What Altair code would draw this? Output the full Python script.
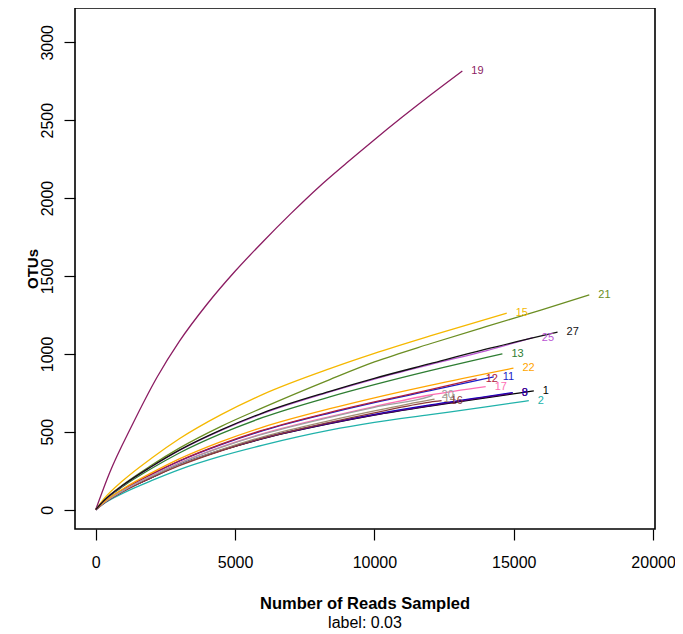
import altair as alt
import pandas as pd

# ---- data (reads sampled -> OTUs) ----
SAMPLES = ["1", "2", "8", "9", "11", "12", "13", "14", "15", "16",
           "17", "19", "20", "21", "22", "25", "27"]

COLORS = {
    "1": "#000000", "2": "#20B2AA", "8": "#0000CD", "9": "#4B0082",
    "11": "#1C1CC8", "12": "#B0203C", "13": "#2E7D32", "14": "#A08C70",
    "15": "#F5B800", "16": "#8B3A3A", "17": "#FF6EB4", "19": "#8B1C62",
    "20": "#A0A0A0", "21": "#6B8E23", "22": "#FFA500", "25": "#BA55D3",
    "27": "#111111",
}

reads_19 = [0, 500, 1300, 2200, 3000, 4000, 5000, 6000, 7000, 8000, 9000,
            10000, 11000, 12000, 13155]
otus_19 = [0, 237, 540, 850, 1080, 1320, 1530, 1720, 1900, 2070, 2225,
           2375, 2520, 2660, 2816]

grid = [0, 300, 1000, 2000, 3000, 4500, 6000, 8400, 10000, 12000]

reads_15 = grid + [14748]
otus_15 = [0, 70, 190, 330, 455, 610, 740, 905, 1003, 1115, 1261]
reads_21 = grid + [14000, 16000, 17710]
otus_21 = [0, 60, 163, 285, 395, 535, 655, 835, 948, 1065, 1175, 1282, 1378]
reads_27 = grid + [14000, 16571]
otus_27 = [0, 59, 160, 277, 382, 512, 622, 760, 843, 937, 1030, 1139]
reads_25 = grid + [14000, 15683]
otus_25 = [0, 58, 159, 276, 380, 509, 618, 756, 838, 931, 1020, 1105]
reads_13 = grid + [14593]
otus_13 = [0, 56, 152, 264, 364, 488, 592, 724, 802, 892, 1000]
reads_22 = grid + [14989]
otus_22 = [0, 50, 136, 236, 326, 437, 530, 648, 718, 798, 908]
reads_12 = grid + [13669]
otus_12 = [0, 48, 131, 228, 314, 421, 511, 625, 692, 770, 840]
reads_11 = grid + [14281]
otus_11 = [0, 48, 130, 226, 312, 418, 507, 620, 687, 764, 853]
reads_17 = grid + [13993]
otus_17 = [0, 46, 125, 218, 300, 403, 488, 597, 662, 736, 790]
reads_20 = grid + [12086]
otus_20 = [0, 46, 124, 216, 298, 400, 485, 593, 657, 728, 733]
reads_14 = grid + [12158]
otus_14 = [0, 44, 120, 209, 288, 386, 468, 572, 634, 705, 710]
reads_16 = grid + [12410]
otus_16 = [0, 43, 118, 205, 282, 378, 459, 561, 622, 691, 700]
reads_8 = grid + [14000, 14964]
otus_8 = [0, 45, 122, 208, 290, 383, 460, 557, 612, 672, 725, 752]
reads_9 = grid + [14000, 14964]
otus_9 = [0, 44, 121, 206, 287, 380, 457, 554, 609, 668, 722, 748]
reads_1 = grid + [14000, 15719]
otus_1 = [0, 44, 121, 206, 287, 380, 456, 552, 607, 665, 718, 763]
reads_2 = grid + [14000, 15540]
otus_2 = [0, 40, 108, 186, 257, 343, 414, 510, 560, 610, 660, 700]

SERIES = {
    "1": (reads_1, otus_1), "2": (reads_2, otus_2), "8": (reads_8, otus_8),
    "9": (reads_9, otus_9), "11": (reads_11, otus_11), "12": (reads_12, otus_12),
    "13": (reads_13, otus_13), "14": (reads_14, otus_14), "15": (reads_15, otus_15),
    "16": (reads_16, otus_16), "17": (reads_17, otus_17), "19": (reads_19, otus_19),
    "20": (reads_20, otus_20), "21": (reads_21, otus_21), "22": (reads_22, otus_22),
    "25": (reads_25, otus_25), "27": (reads_27, otus_27),
}

X_TICKS = [0, 5000, 10000, 15000, 20000]
Y_TICKS = [0, 500, 1000, 1500, 2000, 2500, 3000]
X_DOMAIN = [-743, 20068]
Y_DOMAIN = [-124, 3220]

FONT = "Liberation Sans"

x_enc = alt.X(
    "reads:Q",
    scale=alt.Scale(domain=X_DOMAIN, nice=False, zero=False),
    axis=alt.Axis(values=X_TICKS, format="d", grid=False, domain=False,
                  tickSize=11, tickColor="black", tickWidth=1.2,
                  labelFontSize=16, labelFont=FONT, labelColor="black",
                  labelPadding=14, labelFlush=False, labelOverlap=False),
    title=None,
)
y_enc = alt.Y(
    "otus:Q",
    scale=alt.Scale(domain=Y_DOMAIN, nice=False, zero=False),
    axis=alt.Axis(values=Y_TICKS, format="d", grid=False, domain=False,
                  tickSize=11, tickColor="black", tickWidth=1.2,
                  labelFontSize=16, labelFont=FONT, labelColor="black",
                  labelAngle=270, labelAlign="center", labelBaseline="alphabetic",
                  labelPadding=12, labelFlush=False, labelOverlap=False,
                  titleAngle=270, titleX=-43, titleY=260.5, titleAlign="center",
                  titleBaseline="middle", titleFont=FONT, titleFontSize=15,
                  titleFontWeight="bold", titleColor="black"),
    title="OTUs",
)

layers = []
end_rows = []
for name in SAMPLES:
    r, o = SERIES[name]
    df = pd.DataFrame({"reads": r, "otus": o})
    layers.append(
        alt.Chart(df).mark_line(color=COLORS[name], strokeWidth=1.3,
                                interpolate="monotone", clip=True)
        .encode(x=x_enc, y=y_enc)
    )
    end_rows.append({"sample": name, "reads": r[-1], "otus": o[-1]})

ends = pd.DataFrame(end_rows)
labels = alt.Chart(ends).mark_text(
    align="left", baseline="middle", dx=9, fontSize=11, font=FONT
).encode(
    x=alt.X("reads:Q"), y=alt.Y("otus:Q"),
    text="sample:N",
    color=alt.Color("sample:N", scale=alt.Scale(domain=SAMPLES,
                    range=[COLORS[s] for s in SAMPLES]), legend=None),
)

chart = alt.layer(*layers, labels).properties(
    width=580, height=521,
    background="white",
    autosize=alt.AutoSizeParams(type="none"),
    padding={"left": 67, "top": 0, "right": 20, "bottom": 100},
    title=alt.TitleParams(
        text="Number of Reads Sampled", subtitle="label: 0.03",
        orient="bottom", anchor="middle", frame="group",
        font=FONT, fontSize=16.5, fontWeight="bold", color="black",
        subtitleFont=FONT, subtitleFontSize=16, subtitleColor="black",
        subtitleFontWeight="normal", offset=26, subtitlePadding=2,
    ),
).configure_view(stroke="black", strokeWidth=1.6)

chart.save("out.html", embed_options={"renderer": "svg", "actions": False})
